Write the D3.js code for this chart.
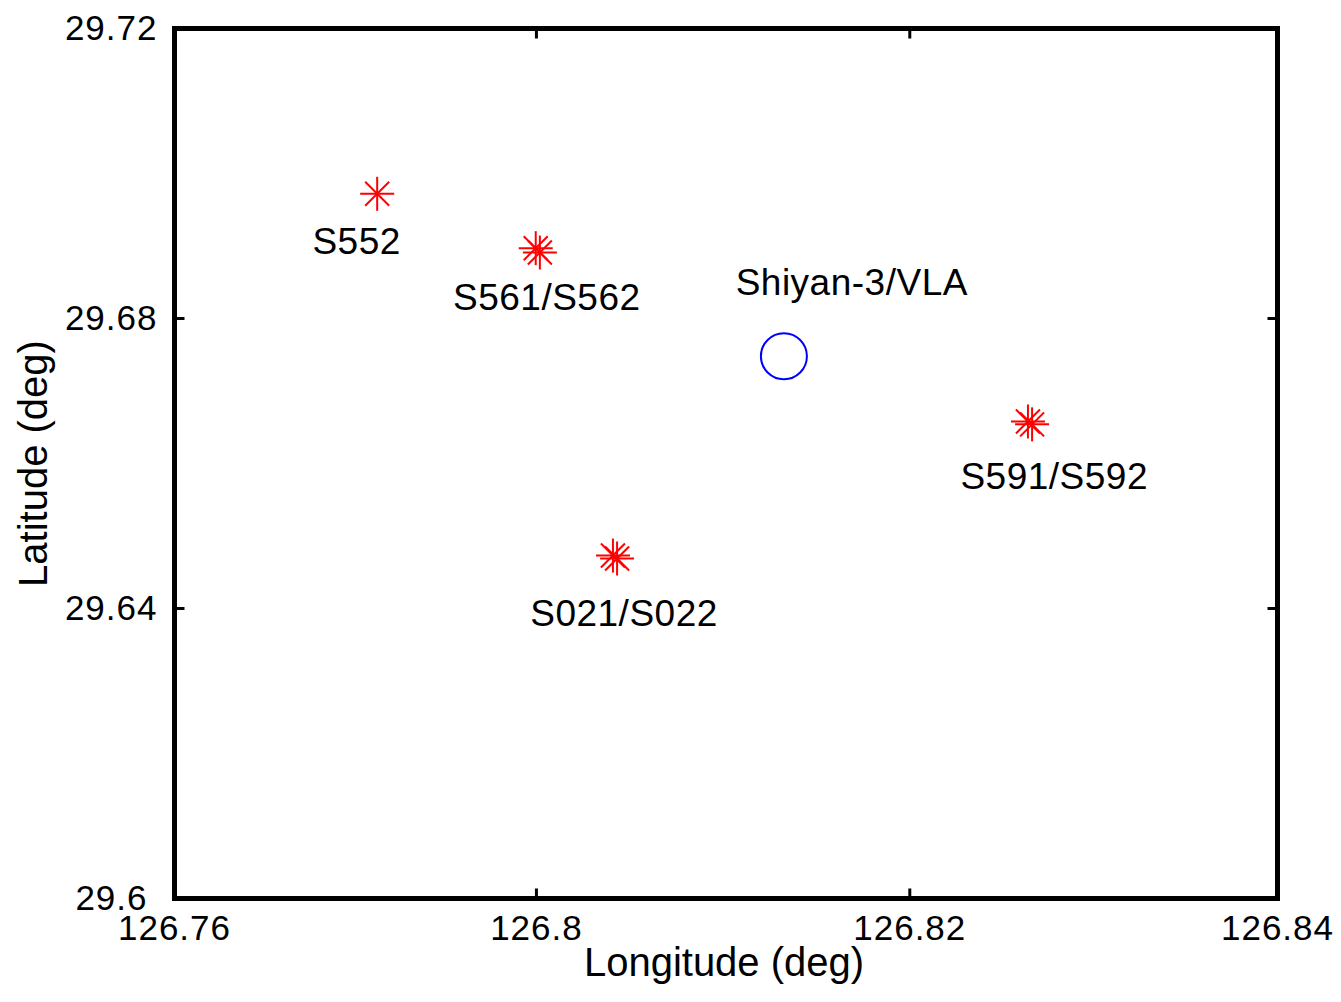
<!DOCTYPE html>
<html><head><meta charset="utf-8">
<script src="https://cdn.jsdelivr.net/npm/d3@7"></script>
<style>html,body{margin:0;padding:0;background:#fff;}svg{display:block;}</style>
</head><body>
<svg id="chart" width="1341" height="1002"></svg>
<script>
// Data
const stationNames = ["S552", "S561", "S562", "S591", "S592", "S021", "S022"];
const stationLon = [126.7747, 126.7862, 126.7865, 126.8219, 126.8222, 126.7918, 126.7921];
const stationLat = [29.6972, 29.6897, 29.6891, 29.6658, 29.6654, 29.6473, 29.6469];
const vlaLon = [126.8042];
const vlaLat = [29.6748];
const labelTexts = ["S552", "S561/S562", "Shiyan-3/VLA", "S591/S592", "S021/S022"];
const labelLon = [126.7700, 126.7802, 126.8007, 126.8170, 126.7858];
const labelLat = [29.6908, 29.6830, 29.6851, 29.6583, 29.6394];
const xTickValues = [126.76, 126.78625, 126.81333, 126.84];
const xTickLabels = ["126.76", "126.8", "126.82", "126.84"];
const yTickValues = [29.6, 29.64, 29.68, 29.72];
const yTickLabels = ["29.6", "29.64", "29.68", "29.72"];

const svg = d3.select("#chart");
const L = 174.5, R = 1277.5, T = 28.5, B = 898.5;
const x = d3.scaleLinear().domain([126.76, 126.84]).range([L, R]);
const y = d3.scaleLinear().domain([29.6, 29.72]).range([B, T]);
const font = "'Liberation Sans', Arial, sans-serif";
const tickFs = 35, titleFs = 40, annFs = 37;

// ticks (inward, all four sides)
const tickLen = 10;
const g = svg.append("g");
xTickValues.forEach(v => {
  g.append("line").attr("x1", x(v)).attr("x2", x(v)).attr("y1", B).attr("y2", B - tickLen).attr("stroke", "#000").attr("stroke-width", 3);
  g.append("line").attr("x1", x(v)).attr("x2", x(v)).attr("y1", T).attr("y2", T + tickLen).attr("stroke", "#000").attr("stroke-width", 3);
});
yTickValues.forEach(v => {
  g.append("line").attr("x1", L).attr("x2", L + tickLen).attr("y1", y(v)).attr("y2", y(v)).attr("stroke", "#000").attr("stroke-width", 3);
  g.append("line").attr("x1", R).attr("x2", R - tickLen).attr("y1", y(v)).attr("y2", y(v)).attr("stroke", "#000").attr("stroke-width", 3);
});

// frame
svg.append("rect").attr("x", L).attr("y", T).attr("width", R - L).attr("height", B - T)
  .attr("fill", "none").attr("stroke", "#000").attr("stroke-width", 5);

// tick labels
svg.append("g").selectAll("text").data(xTickValues).join("text")
  .attr("x", d => x(d)).attr("y", B + 41)
  .attr("text-anchor", "middle").attr("font-family", font).attr("font-size", tickFs)
  .attr("letter-spacing", 1)
  .text((d, i) => xTickLabels[i]);
// the corner label (lowest y tick) is nudged left, as in the original figure
svg.append("g").selectAll("text").data(yTickValues).join("text")
  .attr("x", (d, i) => L - 17 - (i === 0 ? 10 : 0)).attr("y", d => y(d)).attr("dy", "0.34em")
  .attr("text-anchor", "end").attr("font-family", font).attr("font-size", tickFs)
  .attr("letter-spacing", 1)
  .text((d, i) => yTickLabels[i]);

// axis titles
svg.append("text").attr("x", 724).attr("y", 976)
  .attr("text-anchor", "middle").attr("font-family", font).attr("font-size", titleFs)
  .text("Longitude (deg)");
svg.append("text").attr("transform", `translate(47,${(T + B) / 2}) rotate(-90)`)
  .attr("text-anchor", "middle").attr("font-family", font).attr("font-size", titleFs)
  .text("Latitude (deg)");

// asterisk markers
const pr = 17, xr = 12;
const stars = svg.append("g").attr("stroke", "#ff0000").attr("stroke-width", 2);
stationLon.forEach((lon, i) => {
  const cx = x(lon), cy = y(stationLat[i]);
  const s = stars.append("g").attr("transform", `translate(${cx},${cy})`);
  s.append("line").attr("x1", -pr).attr("x2", pr).attr("y1", 0).attr("y2", 0);
  s.append("line").attr("x1", 0).attr("x2", 0).attr("y1", -pr).attr("y2", pr);
  s.append("line").attr("x1", -xr).attr("x2", xr).attr("y1", -xr).attr("y2", xr);
  s.append("line").attr("x1", -xr).attr("x2", xr).attr("y1", xr).attr("y2", -xr);
});

// VLA circle
svg.append("g").selectAll("circle").data(vlaLon).join("circle")
  .attr("cx", d => x(d)).attr("cy", (d, i) => y(vlaLat[i])).attr("r", 23)
  .attr("fill", "none").attr("stroke", "#0000ff").attr("stroke-width", 2);

// labels
svg.append("g").selectAll("text").data(labelTexts).join("text")
  .attr("x", (d, i) => x(labelLon[i])).attr("y", (d, i) => y(labelLat[i])).attr("dy", "0.36em")
  .attr("text-anchor", "start").attr("font-family", font).attr("font-size", annFs)
  .attr("letter-spacing", 0.5)
  .text(d => d);
</script>
</body></html>
